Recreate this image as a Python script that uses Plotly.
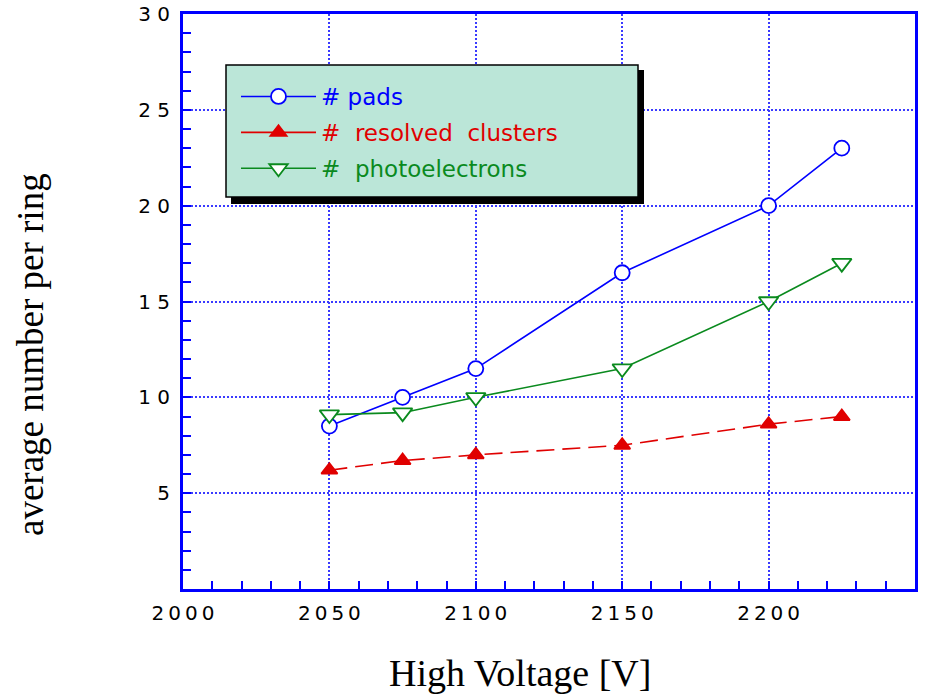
import plotly.graph_objects as go

# ---- data ----
voltage = [2050, 2075, 2100, 2150, 2200, 2225]
pads = [8.5, 10.0, 11.5, 16.5, 20.0, 23.0]
clusters = [6.2, 6.7, 7.0, 7.5, 8.6, 9.0]
photoelectrons = [9.1, 9.2, 10.0, 11.5, 15.0, 17.0]

x_ticks = [2000, 2050, 2100, 2150, 2200, 2250]
x_ticktext = ["2\u20090\u20090\u20090", "2\u20090\u20095\u20090", "2\u20091\u20090\u20090",
              "2\u20091\u20095\u20090", "2\u20092\u20090\u20090", "2\u20092\u20095\u20090"]
y_ticks = [5, 10, 15, 20, 25, 30]
y_ticktext = ["5", "1 0", "1 5", "2 0", "2 5", "3 0"]

BLUE = "#0000ff"
RED = "#e00000"
GREEN = "#0a8a1e"
GRID = "#3a3aff"

styles = [
    dict(y=pads, name='<span style="color:#0000ff">#\u00a0pads</span>', color=BLUE,
         dash="solid", symbol="circle", size=15, fill="white"),
    dict(y=clusters, name='<span style="color:#e00000">#\u00a0\u00a0resolved\u00a0\u00a0clusters</span>',
         color=RED, dash="18px,8px", symbol="triangle-up", size=14, fill=RED),
    dict(y=photoelectrons, name='<span style="color:#0a8a1e">#\u00a0\u00a0photoelectrons</span>',
         color=GREEN, dash="solid", symbol="triangle-down", size=17, fill="white"),
]

fig = go.Figure()
for i, s in enumerate(styles):
    marker = dict(symbol=s["symbol"], size=s["size"], color=s["fill"],
                  line=dict(color=s["color"], width=1.8))
    fig.add_trace(go.Scatter(
        x=voltage, y=s["y"], mode="lines+markers", showlegend=False,
        line=dict(color=s["color"], width=1.6, dash=s["dash"]), marker=marker))
    # legend sample (solid line as in the original legend)
    fig.add_trace(go.Scatter(
        x=[None], y=[None], mode="lines+markers", name=s["name"],
        line=dict(color=s["color"], width=1.6), marker=marker,
        legendgroup=f"g{i}"))

L, R, T, B = 183, 22, 14, 111
W, H = 937, 700
pw, ph = W - L - R, H - T - B

def px(x):
    return (x - L) / pw

def py(y):
    return (H - B - y) / ph

shapes = [
    dict(type="rect", xref="paper", yref="paper", layer="above",
         x0=px(231), x1=px(644), y0=py(204), y1=py(70),
         fillcolor="black", line=dict(width=0)),
    dict(type="rect", xref="paper", yref="paper", layer="above",
         x0=px(226), x1=px(638), y0=py(197), y1=py(65),
         fillcolor="#bbe6d8", line=dict(color="black", width=1.5)),
]

annotations = [
    dict(text="High Voltage [V]", xref="paper", yref="paper", x=px(520), y=py(673),
         xanchor="center", yanchor="middle", showarrow=False,
         font=dict(family="Liberation Serif", size=38, color="black")),
    dict(text="average number per ring", xref="paper", yref="paper", x=px(30), y=py(355),
         xanchor="center", yanchor="middle", showarrow=False, textangle=-90,
         font=dict(family="Liberation Serif", size=37, color="black")),
]

fig.update_layout(
    width=W, height=H,
    margin=dict(l=L, r=R, t=T, b=B, autoexpand=False),
    paper_bgcolor="white", plot_bgcolor="white",
    shapes=shapes, annotations=annotations,
    showlegend=True,
    legend=dict(x=px(236), y=py(75), xanchor="left", yanchor="top",
                bgcolor="rgba(0,0,0,0)", borderwidth=0,
                font=dict(family="DejaVu Sans", size=23, color="black"),
                itemwidth=75, tracegroupgap=3, traceorder="grouped"),
)

fig.update_xaxes(
    range=[2000, 2250], tickmode="array", tickvals=x_ticks, ticktext=x_ticktext,
    ticks="inside", ticklen=8, tickwidth=2, tickcolor=BLUE,
    showline=True, linecolor=BLUE, linewidth=3, mirror=True,
    showgrid=True, gridcolor=GRID, gridwidth=2, griddash="2px,2px",
    zeroline=False, ticklabelstandoff=4, automargin=False,
    tickfont=dict(family="DejaVu Sans", size=20, color="black"),
    minor=dict(dtick=10, tick0=2000, ticks="inside", ticklen=8, tickwidth=2,
               tickcolor=BLUE, showgrid=False),
)
fig.update_yaxes(
    range=[0, 30], tickmode="array", tickvals=y_ticks, ticktext=y_ticktext,
    ticks="inside", ticklen=8, tickwidth=2, tickcolor=BLUE,
    showline=True, linecolor=BLUE, linewidth=3, mirror=True,
    showgrid=True, gridcolor=GRID, gridwidth=2, griddash="2px,2px",
    zeroline=False, ticklabelstandoff=6, automargin=False,
    tickfont=dict(family="DejaVu Sans", size=20, color="black"),
    minor=dict(dtick=1, tick0=0, ticks="inside", ticklen=8, tickwidth=2,
               tickcolor=BLUE, showgrid=False),
)

fig.write_html("out.html")
